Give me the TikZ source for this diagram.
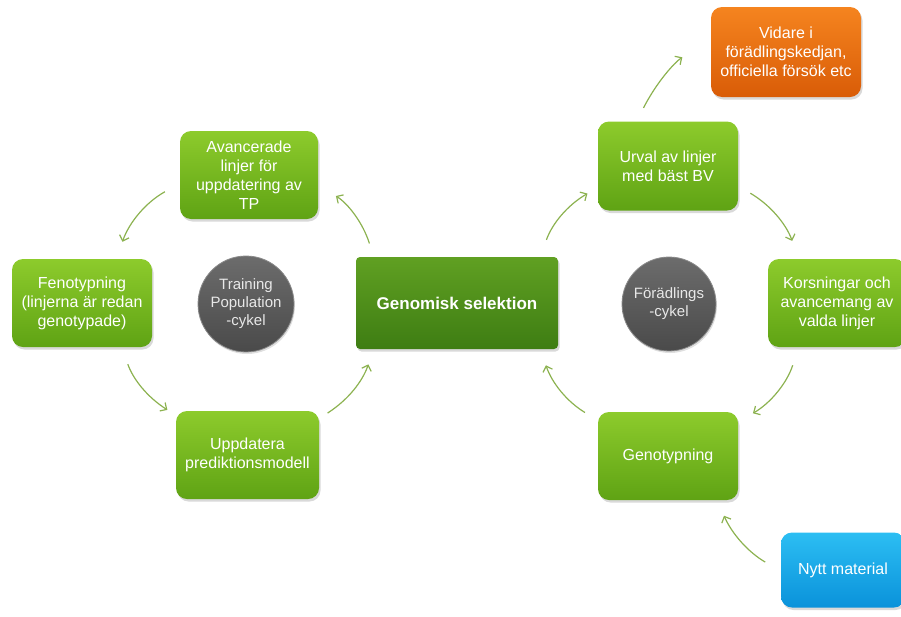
\documentclass[tikz,border=0pt]{standalone}
\usepackage{fontspec}
\setmainfont{Liberation Sans}
\usepackage{tikz}
\usetikzlibrary{arrows.meta, positioning, shadows}
\definecolor{boxtop}{HTML}{8DCB2C}
\definecolor{boxbot}{HTML}{5FA314}
\definecolor{gstop}{HTML}{60A022}
\definecolor{gsbot}{HTML}{3E7D13}
\definecolor{ortop}{HTML}{F5841F}
\definecolor{orbot}{HTML}{D95C07}
\definecolor{bltop}{HTML}{2CBEF3}
\definecolor{blbot}{HTML}{0A92DA}
\definecolor{hubtop}{HTML}{6C6C6C}
\definecolor{hubbot}{HTML}{4A4A4A}
\definecolor{hubline}{HTML}{8A8A8A}
\definecolor{hubtext}{HTML}{E8E8E8}
\definecolor{cycgreen}{HTML}{8CB250}
\tikzstyle{greenbox} = [rectangle, rounded corners=11pt, minimum width=140pt, minimum height=88pt, inner sep=0pt, align=center, text=white, top color=boxtop, bottom color=boxbot, drop shadow={opacity=0.3, shadow xshift=1.5pt, shadow yshift=-2.5pt}, font=\fontsize{16}{19}\selectfont]
\tikzstyle{mainbox}  = [greenbox, rounded corners=4pt, minimum width=202pt, minimum height=92pt, top color=gstop, bottom color=gsbot, font=\fontsize{17}{20}\selectfont\bfseries]
\tikzstyle{outbox}   = [greenbox, minimum width=150pt, minimum height=90pt, top color=ortop, bottom color=orbot]
\tikzstyle{inbox}    = [greenbox, minimum width=124pt, minimum height=75pt, top color=bltop, bottom color=blbot]
\tikzstyle{hub}      = [circle, minimum size=96pt, inner sep=0pt, align=center, text=hubtext, top color=hubtop, bottom color=hubbot, draw=hubline, line width=0.8pt, drop shadow={opacity=0.25, shadow xshift=1pt, shadow yshift=-2pt}, font=\fontsize{15}{18}\selectfont]
\tikzstyle{cyc}      = [line width=1.2pt, draw=cycgreen, -{Straight Barb[length=5pt,width=10pt]}]

\begin{document}
\begin{tikzpicture}[x=1pt, y=-1pt]
    \useasboundingbox (0,0) rectangle (901,616);
    \clip (0,0) rectangle (901,616);

    \node (gs)    [mainbox]  at (457,303) {Genomisk selektion};
    \node (adv)   [greenbox, minimum width=138pt] at (249,175) {Avancerade\\linjer för\\uppdatering av\\TP};
    \node (feno)  [greenbox] at (82,303)  {Fenotypning\\(linjerna är redan\\genotypade)};
    \node (upd)   [greenbox, minimum width=143pt] at (247.5,455) {Uppdatera\\prediktionsmodell};
    \node (tp)    [hub]      at (246,304) {Training\\Population\\-cykel};
    \node (urval) [greenbox, minimum height=89pt] at (668,166) {Urval av linjer\\med bäst BV};
    \node (kors)  [greenbox, minimum width=138pt] at (837,303) {Korsningar och\\avancemang av\\valda linjer};
    \node (geno)  [greenbox] at (668,456) {Genotypning};
    \node (fc)    [hub, minimum size=94pt] at (669,304) {Förädlings\\-cykel};
    \node (vid)   [outbox]   at (786,52)  {Vidare i\\förädlingskedjan,\\officiella försök etc};
    \node (nytt)  [inbox]    at (843,570) {Nytt material};

    \draw [cyc, shorten <=17pt, shorten >=18pt] (adv.187)   to[bend right=21] (feno.52);
    \draw [cyc, shorten <=18pt, shorten >=10pt] (feno.312)  to[bend right=19] (upd.151);
    \draw [cyc, shorten <=10pt, shorten >=16pt] (upd.27)    to[bend right=19] (gs.209);
    \draw [cyc, shorten <=14pt, shorten >=21pt] (gs.151)    to[bend right=20] (adv.352);
    \draw [cyc, shorten <=18pt, shorten >=12pt] (gs.29)     to[bend left=20]  (urval.197);
    \draw [cyc, shorten <=14pt, shorten >=19pt] (urval.344) to[bend left=20]  (kors.131);
    \draw [cyc, shorten <=19pt, shorten >=17pt] (kors.229)  to[bend left=21]  (geno.26);
    \draw [cyc, shorten <=15pt, shorten >=17pt] (geno.153)  to[bend left=20]  (gs.331);
    \draw [cyc, shorten <=15pt, shorten >=34pt] (urval.125) to[bend left=15]  (vid.170);
    \draw [cyc, shorten <=18pt, shorten >=17pt] (nytt.181)  to[bend left=18]  (geno.318);
\end{tikzpicture}
\end{document}
